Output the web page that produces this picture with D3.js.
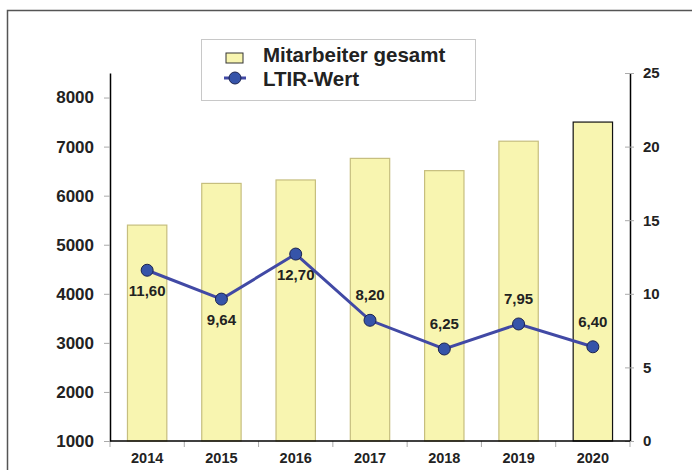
<!DOCTYPE html>
<html>
<head>
<meta charset="utf-8">
<script src="https://cdn.jsdelivr.net/npm/d3@7"></script>
<style>
  body { margin: 0; background: #fff; }
  text { font-family: "Liberation Sans", Arial, sans-serif; font-weight: bold; fill: #222; }
</style>
</head>
<body>
<div id="chart"></div>
<script>
// data
const years = ["2014", "2015", "2016", "2017", "2018", "2019", "2020"];
const employees = [5400, 6250, 6320, 6760, 6510, 7110, 7500];
const ltir = [11.60, 9.64, 12.70, 8.20, 6.25, 7.95, 6.40];
const leftTicks = [1000, 2000, 3000, 4000, 5000, 6000, 7000, 8000];
const rightTicks = [0, 5, 10, 15, 20, 25];

const W = 692, H = 470;
const plot = { left: 110, right: 630, top: 73, bottom: 441 };

const svg = d3.select("#chart").append("svg")
  .attr("width", W)
  .attr("height", H);

// outer frame
svg.append("rect")
  .attr("x", 7.5).attr("y", 10.5)
  .attr("width", 720).attr("height", 500)
  .attr("fill", "none")
  .attr("stroke", "#555")
  .attr("stroke-width", 1.5);

// scales
const x = d3.scaleBand().domain(years).range([plot.left, plot.right]);
const yLeft = d3.scaleLinear().domain([1000, 8500]).range([plot.bottom, plot.top]);
const yRight = d3.scaleLinear().domain([0, 25]).range([plot.bottom, plot.top]);

const barW = x.bandwidth() * 0.53;

// bars
svg.append("g").selectAll("rect")
  .data(years)
  .join("rect")
    .attr("x", d => x(d) + (x.bandwidth() - barW) / 2)
    .attr("y", (d, i) => yLeft(employees[i]))
    .attr("width", barW)
    .attr("height", (d, i) => plot.bottom - yLeft(employees[i]))
    .attr("fill", "#f8f5b0")
    .attr("stroke", (d, i) => i === years.length - 1 ? "#111" : "#c6be7e")
    .attr("stroke-width", 1.2);

// left axis
const gl = svg.append("g")
  .attr("transform", `translate(${plot.left},0)`)
  .call(d3.axisLeft(yLeft).tickValues(leftTicks).tickFormat(d3.format("d"))
    .tickSize(6).tickSizeOuter(0).tickPadding(10));
gl.select(".domain").attr("stroke", "#000").attr("stroke-width", 1.5);
gl.selectAll(".tick line").attr("stroke", "#aaa");
gl.selectAll(".tick text").style("font-size", "17px").attr("fill", "#222");

// right axis
const gr = svg.append("g")
  .attr("transform", `translate(${plot.right},0)`)
  .call(d3.axisRight(yRight).tickValues(rightTicks).tickSize(4).tickSizeOuter(0).tickPadding(9));
gr.select(".domain").attr("stroke", "#000").attr("stroke-width", 1.5);
gr.selectAll(".tick line").attr("x1", -5).attr("stroke", "#aaa");
gr.selectAll(".tick text").style("font-size", "15px").attr("fill", "#222");

// bottom axis (labels centered, ticks between categories)
const gb = svg.append("g")
  .attr("transform", `translate(0,${plot.bottom})`)
  .call(d3.axisBottom(x).tickSize(0).tickPadding(12));
gb.select(".domain").remove();
gb.selectAll(".tick text").style("font-size", "14.5px").attr("fill", "#222");

svg.append("g").selectAll("line")
  .data(years.concat(["end"]))
  .join("line")
    .attr("x1", d => d === "end" ? plot.right : x(d))
    .attr("x2", d => d === "end" ? plot.right : x(d))
    .attr("y1", plot.bottom)
    .attr("y2", plot.bottom + 6)
    .attr("stroke", "#aaa");

svg.append("line")
  .attr("x1", plot.left).attr("x2", plot.right)
  .attr("y1", plot.bottom).attr("y2", plot.bottom)
  .attr("stroke", "#000")
  .attr("stroke-width", 1.5);

// LTIR line
const cx = d => x(d) + x.bandwidth() / 2;
const line = d3.line()
  .x(d => cx(d))
  .y((d, i) => yRight(ltir[i]));

svg.append("path")
  .datum(years)
  .attr("fill", "none")
  .attr("stroke", "#4149a5")
  .attr("stroke-width", 3)
  .attr("d", line);

svg.append("g").selectAll("circle")
  .data(years)
  .join("circle")
    .attr("cx", d => cx(d))
    .attr("cy", (d, i) => yRight(ltir[i]))
    .attr("r", 6)
    .attr("fill", "#3654a9")
    .attr("stroke", "#1c2350")
    .attr("stroke-width", 1);

// value labels: first three below the point, rest above
svg.append("g").selectAll("text")
  .data(years)
  .join("text")
    .attr("x", d => cx(d))
    .attr("y", (d, i) => yRight(ltir[i]) + (i < 3 ? 26 : -20))
    .attr("text-anchor", "middle")
    .style("font-size", "15px")
    .text((d, i) => d3.format(".2f")(ltir[i]).replace(".", ","));

// legend
const lg = svg.append("g");
lg.append("rect")
  .attr("x", 201.5).attr("y", 39.5)
  .attr("width", 274).attr("height", 61)
  .attr("fill", "#fff")
  .attr("stroke", "#c8c8c8");
lg.append("rect")
  .attr("x", 226).attr("y", 53)
  .attr("width", 17).attr("height", 10)
  .attr("fill", "#f8f5b0")
  .attr("stroke", "#333");
lg.append("text")
  .attr("x", 263).attr("y", 62)
  .style("font-size", "20.5px")
  .text("Mitarbeiter gesamt");
lg.append("line")
  .attr("x1", 224).attr("x2", 246)
  .attr("y1", 78).attr("y2", 78)
  .attr("stroke", "#4149a5")
  .attr("stroke-width", 3);
lg.append("circle")
  .attr("cx", 235).attr("cy", 78).attr("r", 6)
  .attr("fill", "#3654a9")
  .attr("stroke", "#1c2350");
lg.append("text")
  .attr("x", 263).attr("y", 86)
  .style("font-size", "20.5px")
  .text("LTIR-Wert");
</script>
</body>
</html>
